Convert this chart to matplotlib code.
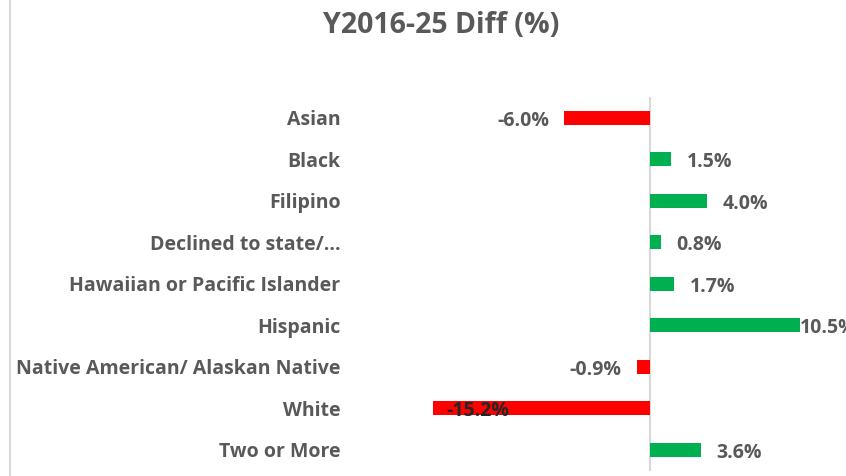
import matplotlib.pyplot as plt
from matplotlib.lines import Line2D

categories = ['Asian', 'Black', 'Filipino', 'Declined to state/...',
              'Hawaiian or Pacific Islander', 'Hispanic',
              'Native American/ Alaskan Native', 'White', 'Two or More']
diff = [-6.0, 1.5, 4.0, 0.8, 1.7, 10.5, -0.9, -15.2, 3.6]
labels = ['-6.0%', '1.5%', '4.0%', '0.8%', '1.7%', '10.5%', '-0.9%', '-15.2%', '3.6%']

plt.rcParams['font.family'] = ['Open Sans', 'DejaVu Sans']
txt = '#595959'
fs = 14

fig = plt.figure(figsize=(8.46, 4.76), dpi=100)
ax = fig.add_axes([364 / 846, 1 - 470.5 / 476, 500.5 / 846, 373.5 / 476])

cols = ['#00B050' if v > 0 else '#FF0000' for v in diff]
y = range(len(categories))
ax.barh(y, diff, height=0.33, color=cols)
ax.set_xlim(-20, 15)
ax.set_ylim(len(categories) - 0.5, -0.5)
ax.axvline(0, color='#d9d9d9', lw=1.5, zorder=0)

for s in ax.spines.values():
    s.set_visible(False)
ax.set_xticks([])
ax.set_yticks(list(y))
ax.set_yticklabels(categories, fontsize=fs, fontweight='bold', color=txt)
ax.tick_params(axis='y', length=0, pad=17)

# value labels, pushed inside when they would run off the plot
for i, (v, lab) in enumerate(zip(diff, labels)):
    if v < -12:
        ax.annotate(lab, (v, i), xytext=(10, -2), textcoords='offset points',
                    ha='left', va='center', fontsize=fs, fontweight='bold', color='#262626')
    elif v > 10:
        ax.annotate(lab, (v, i), xytext=(0, -2), textcoords='offset points',
                    ha='left', va='center', fontsize=fs, fontweight='bold', color=txt,
                    annotation_clip=False)
    elif v < 0:
        ax.annotate(lab, (v, i), xytext=(-11, -2), textcoords='offset points',
                    ha='right', va='center', fontsize=fs, fontweight='bold', color=txt)
    else:
        ax.annotate(lab, (v, i), xytext=(11, -2), textcoords='offset points',
                    ha='left', va='center', fontsize=fs, fontweight='bold', color=txt)

fig.text(0.522, 0.947, 'Y2016-25 Diff (%)', ha='center', va='center',
         fontsize=20.5, fontweight='bold', color=txt)
fig.add_artist(Line2D([10 / 846, 10 / 846], [0, 1], color='#d9d9d9', lw=1.5))

fig.savefig('out.png', dpi=100)
